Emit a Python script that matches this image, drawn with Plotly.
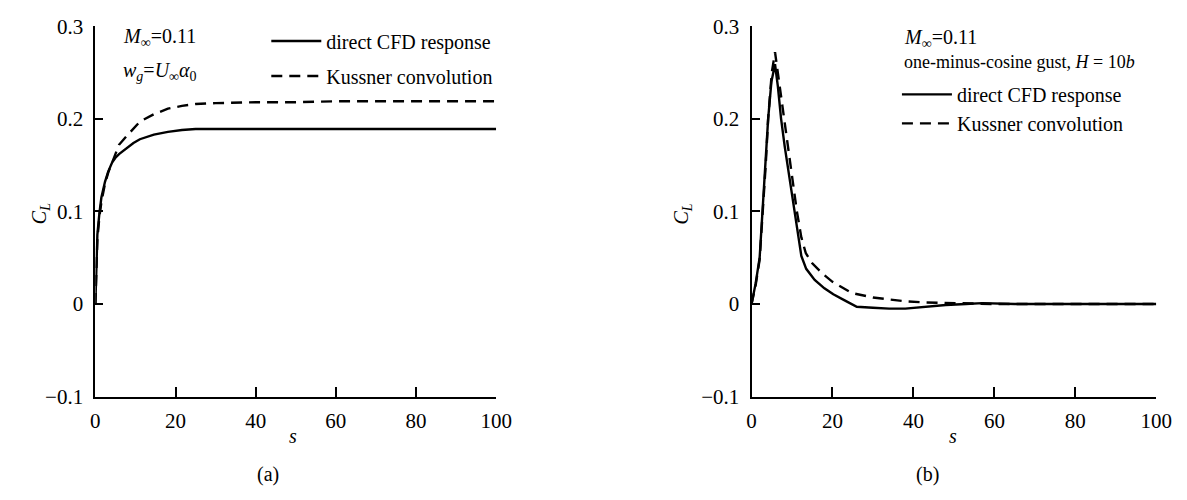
import plotly.graph_objects as go

# ---------------- data ----------------
# panel (a): step gust
s_a = [0, 0.2, 0.5, 1, 1.5, 2.4, 3.2, 4.2, 5, 5.9, 7.7, 9.5, 11.1, 14.6, 18.1, 21.6,
       25, 30, 40, 50, 60, 70, 80, 90, 100]
cfd_a = [0, 0.045, 0.075, 0.098, 0.115, 0.132, 0.143, 0.153, 0.158, 0.162, 0.168, 0.174,
         0.178, 0.183, 0.186, 0.188, 0.189, 0.189, 0.189, 0.189, 0.189, 0.189, 0.189,
         0.189, 0.189]
kus_a = [0, 0.04, 0.07, 0.094, 0.11, 0.13, 0.142, 0.153, 0.163, 0.172, 0.181, 0.19,
         0.197, 0.205, 0.211, 0.214, 0.216, 0.217, 0.218, 0.218, 0.219, 0.219, 0.219,
         0.219, 0.219]

# panel (b): one-minus-cosine gust
s_b_cfd = [0, 1, 2, 2.7, 3.4, 4.1, 4.9, 5.8, 6.5, 7.3, 8.2, 9.2, 10.6, 11.5, 12.3, 13.5,
           15.6, 18, 20.2, 23, 26, 30, 34, 38, 43, 48, 53, 57, 65, 80, 100]
cfd_b = [0, 0.022, 0.05, 0.1, 0.15, 0.2, 0.24, 0.259, 0.235, 0.2, 0.17, 0.14, 0.1, 0.072,
         0.052, 0.038, 0.026, 0.017, 0.0105, 0.004, -0.003, -0.004, -0.005, -0.005,
         -0.003, -0.001, 0.0, 0.001, 0.0, 0.0, 0.0]
s_b_kus = [0, 1, 2, 2.8, 3.5, 4.1, 5.0, 5.8, 6.8, 8, 9, 10, 11.2, 12.3, 13.4, 15, 17.5,
           20, 24.7, 30, 33.8, 38, 43, 48, 52, 60, 80, 100]
kus_b = [0, 0.02, 0.048, 0.1, 0.15, 0.2, 0.25, 0.272, 0.24, 0.2, 0.17, 0.14, 0.1, 0.072,
         0.055, 0.044, 0.033, 0.024, 0.012, 0.007, 0.005, 0.003, 0.0017, 0.001, 0.001,
         0.0, 0.0, 0.0]

x_ticks = [0, 20, 40, 60, 80, 100]
y_ticks = [-0.1, 0, 0.1, 0.2, 0.3]
y_tick_text = ["\u22120.1", "0", "0.1", "0.2", "0.3"]
series_names = ["direct CFD response", "Kussner convolution"]

FONT = "Liberation Serif, Times New Roman, serif"
W, H = 1187, 500

def px(x):
    return x / W

def py(y):
    return 1 - y / H

fig = go.Figure()
LW = 2.4
DASH = "11px,7px"

fig.add_trace(go.Scatter(x=s_a, y=cfd_a, mode="lines", name=series_names[0],
                         line=dict(color="black", width=LW), xaxis="x", yaxis="y",
                         legend="legend", legendgroup="a1"))
fig.add_trace(go.Scatter(x=s_a, y=kus_a, mode="lines", name=series_names[1],
                         line=dict(color="black", width=LW, dash=DASH), xaxis="x", yaxis="y",
                         legend="legend", legendgroup="a2"))
fig.add_trace(go.Scatter(x=s_b_cfd, y=cfd_b, mode="lines", name=series_names[0],
                         line=dict(color="black", width=LW), xaxis="x2", yaxis="y2",
                         legend="legend2"))
fig.add_trace(go.Scatter(x=s_b_kus, y=kus_b, mode="lines", name=series_names[1],
                         line=dict(color="black", width=LW, dash=DASH), xaxis="x2", yaxis="y2",
                         legend="legend2"))

ydom = [py(404), py(15)]
axis_common = dict(showgrid=False, zeroline=False, showline=True, linecolor="black",
                   linewidth=2, ticks="inside", tickcolor="black", tickwidth=2,
                   tickfont=dict(family=FONT, size=21, color="black"), mirror=False)

xa = dict(axis_common, range=[0, 100], tickvals=x_ticks, ticklen=10, ticklabelstandoff=4)
ya = dict(axis_common, range=[-0.1, 0.3], tickvals=y_ticks, ticktext=y_tick_text,
          ticklen=8, ticklabelstandoff=6, domain=ydom)

fig.update_layout(
    width=W, height=H,
    margin=dict(l=0, r=0, t=0, b=0),
    paper_bgcolor="white", plot_bgcolor="white",
    font=dict(family=FONT, size=20, color="black"),
    xaxis=dict(xa, domain=[px(92), px(500)], anchor="y"),
    yaxis=dict(ya, anchor="x"),
    xaxis2=dict(xa, domain=[px(760), px(1172)], anchor="y2"),
    yaxis2=dict(ya, anchor="x2"),
    legend=dict(x=px(266), y=py(10), xanchor="left", yanchor="top",
                bgcolor="rgba(0,0,0,0)", font=dict(family=FONT, size=20, color="black"),
                tracegroupgap=6, itemwidth=50),
    legend2=dict(x=px(908), y=py(66), xanchor="left", yanchor="top",
                 bgcolor="rgba(0,0,0,0)", font=dict(family=FONT, size=20, color="black"),
                 tracegroupgap=0, itemwidth=50),
    showlegend=True,
)

ann = []
def text(x, y, t, size=20, xanchor="left", angle=0):
    ann.append(dict(x=px(x), y=py(y), xref="paper", yref="paper", text=t, showarrow=False,
                    xanchor=xanchor, yanchor="middle", textangle=angle,
                    font=dict(family=FONT, size=size, color="black")))

text(118, 27, "<i>M</i><sub>\u221e</sub>=0.11")
text(118, 62, "<i>w</i><sub><i>g</i></sub>=<i>U</i><sub>\u221e</sub><i>\u03b1</i><sub>0</sub>")
text(913, 28, "<i>M</i><sub>\u221e</sub>=0.11")
text(913, 52, "one-minus-cosine gust, <i>H</i> = 10<i>b</i>", size=18)
text(36, 212, "<i>C</i><sub><i>L</i></sub>", xanchor="center", angle=-90)
text(690, 212, "<i>C</i><sub><i>L</i></sub>", xanchor="center", angle=-90)
text(293, 445, "<i>s</i>", xanchor="center")
text(965, 445, "<i>s</i>", xanchor="center")
text(268, 486, "(a)", xanchor="center")
text(939, 486, "(b)", xanchor="center")
fig.update_layout(annotations=ann)

fig.write_html("out.html")
